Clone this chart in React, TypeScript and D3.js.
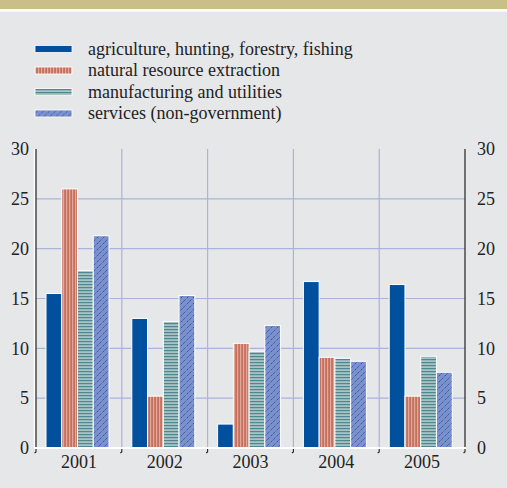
import { useEffect, useRef } from "react";
import * as d3 from "d3";

const WIDTH = 507;
const HEIGHT = 488;
const MARGIN = { top: 149, right: 42, bottom: 40, left: 36 };
const FONT = "'Liberation Serif', 'Times New Roman', Times, serif";

const years = ["2001", "2002", "2003", "2004", "2005"];
const seriesNames = [
  "agriculture, hunting, forestry, fishing",
  "natural resource extraction",
  "manufacturing and utilities",
  "services (non-government)",
];
const agriculture = [15.5, 13.0, 2.4, 16.7, 16.4];
const extraction = [26.0, 5.2, 10.5, 9.1, 5.2];
const manufacturing = [17.8, 12.7, 9.7, 9.0, 9.2];
const services = [21.3, 15.3, 12.3, 8.7, 7.6];
const yTicks = [0, 5, 10, 15, 20, 25, 30];

const FILLS = ["#00509e", "url(#pRed)", "url(#pTeal)", "url(#pHatch)"];

export default function App() {
  const axesRef = useRef<SVGGElement>(null);
  const boundsWidth = WIDTH - MARGIN.left - MARGIN.right;
  const boundsHeight = HEIGHT - MARGIN.top - MARGIN.bottom;

  useEffect(() => {
    document.body.style.margin = "0";
  }, []);

  const xScale = d3.scaleBand().domain(years).range([0, boundsWidth]).padding(0);
  const yScale = d3.scaleLinear().domain([0, 30]).range([boundsHeight, 0]);
  const inner = d3.scaleBand().domain(seriesNames).range([10, 73]).padding(0);

  const allSeries = [agriculture, extraction, manufacturing, services];

  useEffect(() => {
    const g = d3.select(axesRef.current);
    g.selectAll("*").remove();

    // left axis
    const left = g
      .append("g")
      .call(d3.axisLeft(yScale).tickValues(yTicks).tickSize(0).tickPadding(7));
    left.attr("font-family", null).attr("font-size", null);
    left.select(".domain").remove();
    left.selectAll("text").style("font-family", FONT).style("font-size", "18px").attr("fill", "#222");

    // right axis
    const right = g
      .append("g")
      .attr("transform", `translate(${boundsWidth},0)`)
      .call(d3.axisRight(yScale).tickValues(yTicks).tickSize(0).tickPadding(12));
    right.attr("font-family", null).attr("font-size", null);
    right.select(".domain").remove();
    right.selectAll("text").style("font-family", FONT).style("font-size", "18px").attr("fill", "#222");

    // bottom labels
    const bottom = g
      .append("g")
      .attr("transform", `translate(0,${boundsHeight})`)
      .call(d3.axisBottom(xScale).tickSize(0).tickPadding(7));
    bottom.attr("font-family", null).attr("font-size", null);
    bottom.select(".domain").remove();
    bottom.selectAll("text").style("font-family", FONT).style("font-size", "18px").attr("fill", "#222");
  }, [xScale, yScale, boundsWidth, boundsHeight]);

  const boundaries = years.map((y) => xScale(y) as number).concat([boundsWidth]);

  return (
    <svg width={WIDTH} height={HEIGHT} style={{ display: "block" }}>
      <defs>
        <pattern id="pRed" width={3} height={4} patternUnits="userSpaceOnUse">
          <rect width={3} height={4} fill="#c4705f" />
          <rect x={0} width={1.2} height={4} fill="#e3a898" />
        </pattern>
        <pattern id="pTeal" width={4} height={3} patternUnits="userSpaceOnUse">
          <rect width={4} height={3} fill="#a7c3c4" />
          <rect y={0} width={4} height={1.2} fill="#4d8890" />
        </pattern>
        <pattern id="pHatch" width={6} height={6} patternUnits="userSpaceOnUse">
          <rect width={6} height={6} fill="#7c90cb" />
          <path d="M-1,7 L7,-1 M-1,1 L1,-1 M5,7 L7,5" stroke="#1a4ea8" strokeWidth={1} strokeDasharray="1.5,1" />
        </pattern>
      </defs>
      <rect width={WIDTH} height={HEIGHT} fill="#e6e7e9" />
      <rect width={WIDTH} height={9} fill="#cabf86" />
      <rect y={9} width={WIDTH} height={2.5} fill="#ffffff" />

      {/* legend */}
      <g transform="translate(35,49)">
        {seriesNames.map((name, i) => (
          <g key={name} transform={`translate(0,${i * 21.5})`}>
            <rect x={0} y={-3.5} width={37} height={7} fill={FILLS[i]} stroke="#fff" strokeWidth={0.8} />
            <text x={53} y={5.5} style={{ fontFamily: FONT, fontSize: "18px" }} fill="#222">
              {name}
            </text>
          </g>
        ))}
      </g>

      <g transform={`translate(${MARGIN.left},${MARGIN.top})`}>
        {/* grid */}
        {yTicks.slice(1, -1).map((t) => (
          <line key={t} x1={0} x2={boundsWidth} y1={yScale(t)} y2={yScale(t)} stroke="#a9b3dc" strokeWidth={1.2} />
        ))}
        {boundaries.slice(1, -1).map((b, i) => (
          <line key={i} x1={b} x2={b} y1={0} y2={boundsHeight} stroke="#a9b3dc" strokeWidth={1.2} />
        ))}

        {/* bars */}
        {years.map((yr, yi) =>
          allSeries.map((vals, si) => (
            <rect
              key={yr + si}
              x={(xScale(yr) as number) + (inner(seriesNames[si]) as number)}
              y={yScale(vals[yi])}
              width={inner.bandwidth()}
              height={boundsHeight - yScale(vals[yi])}
              fill={FILLS[si]}
              stroke="#fff"
              strokeWidth={1}
            />
          ))
        )}

        {/* axis lines */}
        <line x1={-1.5} x2={-1.5} y1={0} y2={boundsHeight} stroke="#fff" strokeWidth={1.5} />
        <line x1={0} x2={0} y1={0} y2={boundsHeight + 1} stroke="#222" strokeWidth={1.2} />
        <line x1={boundsWidth} x2={boundsWidth} y1={0} y2={boundsHeight + 1} stroke="#222" strokeWidth={1.2} />
        <line x1={-2} x2={boundsWidth + 1} y1={boundsHeight} y2={boundsHeight} stroke="#fff" strokeWidth={2.2} />
        {boundaries.map((b, i) => (
          <path
            key={i}
            d={`M${b - 1.5},${boundsHeight + 5} L${b},${boundsHeight + 4} L${b},${boundsHeight + 1}`}
            stroke="#222"
            strokeWidth={1.1}
            fill="none"
          />
        ))}
      </g>
      <g ref={axesRef} transform={`translate(${MARGIN.left},${MARGIN.top})`} />
    </svg>
  );
}
